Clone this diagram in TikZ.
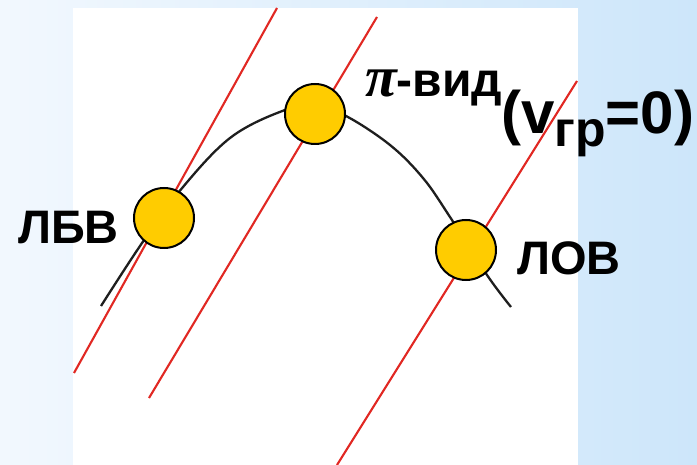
\documentclass[tikz,border=0pt]{standalone}
\usepackage{fontspec}
\setmainfont{Liberation Sans}
\newfontfamily\greekserif{Liberation Serif}
\begin{document}
\begin{tikzpicture}[x=1pt,y=-1pt,
  redline/.style={draw={rgb,255:red,225;green,40;blue,35},line width=2.1pt},
  curveline/.style={draw={rgb,255:red,30;green,30;blue,30},line width=2.3pt},
  dot/.style={circle,draw=black,line width=2pt,fill={rgb,255:red,255;green,204;blue,0},minimum size=60pt,inner sep=0pt},
  lbl/.style={font=\bfseries\fontsize{47}{47}\selectfont,inner sep=0pt,anchor=base west}]
\useasboundingbox (0,0) rectangle (697,465);
% background
\shade[left color={rgb,255:red,242;green,248;blue,254},right color={rgb,255:red,205;green,230;blue,250}] (0,0) rectangle (697,465);
\fill[white] (73,8) rectangle (578,465);
% red lines
\coordinate (r1a) at (277,8);   \coordinate (r1b) at (74,373);
\coordinate (r2a) at (377,17);  \coordinate (r2b) at (149,398);
\coordinate (r3a) at (577,81);  \coordinate (r3b) at (337,465);
\draw[redline] (r1a) -- (r1b);
\draw[redline] (r2a) -- (r2b);
\draw[redline] (r3a) -- (r3b);
% dispersion curve
\coordinate (cs) at (101,306);
\coordinate (ce) at (511,307);
\draw[curveline] plot[smooth,tension=0.6] coordinates {(101,306) (140,246) (178,193) (230,138) (285,110) (315,106) (346,116) (390,145) (423,178) (450,217) (487,275) (511,307)};
% circles
\node[dot] (lbv) at (164,218) {};
\node[dot] (pi)  at (315,114) {};
\node[dot] (lov) at (466,250) {};
% labels
\node[lbl] (tlbv) at (18,244) {ЛБВ};
\node[lbl] (tlov) at (517,275) {ЛОВ};
\node[lbl,anchor=base west] (tpi) at (365,97) {{\greekserif\bfseries\itshape\fontsize{58}{58}\selectfont π}\fontsize{48}{48}\selectfont-вид};
\node[inner sep=0pt,anchor=base west,font=\bfseries\fontsize{60}{60}\selectfont] (tv) at (501,134) {(v\raisebox{-13pt}{\fontsize{50}{50}\selectfont гр}=0)};
\end{tikzpicture}
\end{document}
